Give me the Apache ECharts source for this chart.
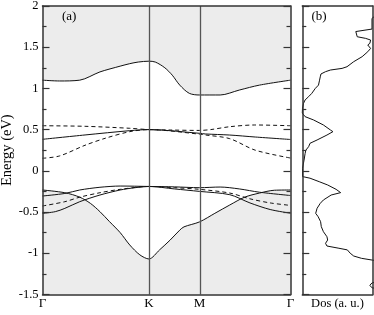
<!DOCTYPE html>
<html>
<head>
<meta charset="utf-8">
<script src="https://cdn.jsdelivr.net/npm/echarts@6/dist/echarts.min.js"></script>
<style>
html,body{margin:0;padding:0;background:#fff;}
#chart{width:374px;height:315px;}
</style>
</head>
<body>
<div id="chart"></div>
<script>
// k-path positions (units of |ΓK|)
const kTicks = [0, 1.0, 1.476, 2.331];
const kLabels = ['Γ', 'K', 'M', 'Γ'];

// energy axis
const yMin = -1.5, yMax = 2, yStep = 0.5;

// bands: [k, E]
const bandCond = [[0,1.10],[0.16,1.09],[0.35,1.10],[0.54,1.20],[0.73,1.27],[0.82,1.30],[0.9,1.32],[1.0,1.33],[1.06,1.32],[1.15,1.25],[1.22,1.16],[1.29,1.04],[1.38,0.94],[1.476,0.92],[1.67,0.92],[1.85,0.98],[2.04,1.04],[2.331,1.10]];
const bandDashUp = [[0,0.547],[0.40,0.54],[0.82,0.516],[1.0,0.50],[1.2,0.495],[1.476,0.49],[1.58,0.50],[1.76,0.535],[1.995,0.556],[2.331,0.547]];
const bandSolidMid = [[0,0.382],[0.40,0.435],[0.82,0.487],[1.0,0.50],[1.476,0.455],[1.53,0.447],[1.76,0.434],[2.0,0.41],[2.331,0.38]];
const bandDashLow = [[0,0.152],[0.16,0.18],[0.40,0.31],[0.59,0.395],[0.82,0.475],[1.0,0.50],[1.476,0.445],[1.53,0.435],[1.76,0.39],[2.0,0.25],[2.331,0.155]];
const bandBulk = [[0,-0.233],[0.21,-0.266],[0.35,-0.32],[0.45,-0.395],[0.54,-0.496],[0.63,-0.617],[0.73,-0.75],[0.82,-0.90],[0.915,-1.02],[1.0,-1.07],[1.10,-0.96],[1.20,-0.84],[1.29,-0.72],[1.33,-0.68],[1.476,-0.62],[1.62,-0.516],[1.76,-0.415],[1.90,-0.32],[2.04,-0.27],[2.18,-0.236],[2.331,-0.233]];
const bandVal1 = [[0,-0.306],[0.21,-0.275],[0.35,-0.233],[0.54,-0.20],[0.73,-0.185],[1.0,-0.19],[1.24,-0.195],[1.476,-0.205],[1.67,-0.197],[1.85,-0.22],[2.04,-0.26],[2.331,-0.30]];
const bandValDash = [[0,-0.427],[0.21,-0.375],[0.35,-0.32],[0.54,-0.266],[0.73,-0.225],[1.0,-0.19],[1.24,-0.205],[1.476,-0.225],[1.76,-0.27],[1.95,-0.34],[2.14,-0.39],[2.331,-0.42]];
const bandVal2 = [[0,-0.516],[0.12,-0.496],[0.21,-0.456],[0.35,-0.375],[0.54,-0.294],[0.73,-0.233],[0.87,-0.205],[1.0,-0.19],[1.24,-0.22],[1.476,-0.25],[1.76,-0.29],[1.95,-0.39],[2.14,-0.47],[2.331,-0.515]];

// density of states: [value (a.u.), E]
const dos = [[1.2,2.0],[1.02,1.87],[0.99,1.85],[0.99,1.72],[0.76,1.69],[0.745,1.668],[0.78,1.627],[0.90,1.607],[0.97,1.587],[0.95,1.567],[0.96,1.547],[0.93,1.527],[0.95,1.506],[0.97,1.485],[0.93,1.445],[0.85,1.385],[0.73,1.324],[0.635,1.263],[0.565,1.243],[0.40,1.223],[0.33,1.203],[0.265,1.175],[0.255,1.14],[0.245,1.10],[0.23,1.04],[0.185,1.00],[0.135,0.94],[0.09,0.90],[0.04,0.86],[0.018,0.82],[0.003,0.76],[0.0,0.70],[0.0,0.68],[0.04,0.657],[0.16,0.617],[0.30,0.556],[0.40,0.495],[0.435,0.475],[0.35,0.434],[0.21,0.374],[0.11,0.334],[0.09,0.293],[0.05,0.25],[0.04,0.21],[0.025,0.13],[0.003,0.03],[0.003,-0.07],[0.11,-0.09],[0.24,-0.132],[0.36,-0.172],[0.48,-0.225],[0.545,-0.265],[0.41,-0.294],[0.30,-0.354],[0.255,-0.395],[0.21,-0.455],[0.19,-0.516],[0.225,-0.557],[0.26,-0.617],[0.27,-0.678],[0.30,-0.739],[0.35,-0.80],[0.36,-0.84],[0.33,-0.88],[0.35,-0.913],[0.52,-0.94],[0.64,-0.96],[0.68,-1.0],[0.73,-1.034],[0.84,-1.062],[0.99,-1.083],[1.2,-1.11],[1.2,-1.33],[0.99,-1.36],[0.96,-1.39],[0.99,-1.42],[1.2,-1.45],[1.2,-1.5]];

const FONT = 'Liberation Serif';
const frame = {show:true, onZero:false, lineStyle:{color:'#333', width:1.5}};
const G0 = {left:42.5, top:6, width:248, height:288.4, outerBoundsMode:'none', containLabel:false};
const G1 = {left:302.3, top:6, width:70.4, height:288.4, outerBoundsMode:'none', containLabel:false};

function yAxisCfg(grid, pos, labels){
  return {
    type:'value', gridIndex:grid, position:pos, min:yMin, max:yMax, interval:yStep, z:10,
    axisLine:frame,
    axisTick:{show:true, inside:true, length:7, lineStyle:{color:'#333', width:1.2}},
    minorTick:{show:true, splitNumber:2, length:4, lineStyle:{color:'#333', width:1.2}},
    splitLine:{show:false},
    axisLabel:{show:labels, margin:4, color:'#000', fontFamily:FONT, fontSize:12.5}
  };
}
function edgeX(grid, pos, min, max){
  return {type:'value', gridIndex:grid, position:pos, min:min, max:max, z:10,
    axisLine:frame, axisTick:{show:false}, axisLabel:{show:false}, splitLine:{show:false}};
}

const chart = echarts.init(document.getElementById('chart'), null, {renderer:'canvas'});

const lineS = (data, dashed, extra) => Object.assign({
  type:'line', xAxisIndex:0, yAxisIndex:0, data:data, smooth:0.3, symbol:'none', silent:true,
  lineStyle:{color:'#111', width:1, type: dashed ? [4,3] : 'solid'}, z:3
}, extra || {});

const option = {
  animation:false,
  backgroundColor:'#fff',
  title:[
    {text:'(a)', left:62, top:10.5, padding:0, textStyle:{fontFamily:FONT, fontSize:13, fontWeight:'normal', color:'#000'}},
    {text:'(b)', left:311.5, top:10, padding:0, textStyle:{fontFamily:FONT, fontSize:13, fontWeight:'normal', color:'#000'}}
  ],
  grid:[G0, G1],
  xAxis:[
    {type:'value', gridIndex:0, position:'bottom', min:kTicks[0], max:kTicks[3], z:10,
      axisLine:frame, axisTick:{show:false}, splitLine:{show:false},
      axisLabel:{customValues:kTicks, showMinLabel:true, showMaxLabel:true, margin:3, color:'#000', fontFamily:FONT, fontSize:13,
        formatter:(v)=>{ let i=0, best=1e9; kTicks.forEach((t,j)=>{ if(Math.abs(t-v)<best){best=Math.abs(t-v); i=j;} }); return kLabels[i]; }}},
    edgeX(0,'top',kTicks[0],kTicks[3]),
    {type:'value', gridIndex:1, position:'bottom', min:0, max:1, z:10,
      axisLine:frame, axisTick:{show:false}, axisLabel:{show:false}, splitLine:{show:false},
      name:'Dos (a. u.)', nameLocation:'middle', nameGap:3, nameMoveOverlap:false,
      nameTextStyle:{fontFamily:FONT, fontSize:12.5, color:'#000', verticalAlign:'top'}},
    edgeX(1,'top',0,1)
  ],
  yAxis:[
    Object.assign(yAxisCfg(0,'left',true), {name:'Energy (eV)', nameLocation:'middle', nameGap:28, nameMoveOverlap:false,
      nameTextStyle:{fontFamily:FONT, fontSize:14.5, color:'#000'}}),
    yAxisCfg(0,'right',false),
    yAxisCfg(1,'left',false),
    {type:'value', gridIndex:1, position:'right', min:yMin, max:yMax, z:10, axisLine:frame, axisTick:{show:false}, axisLabel:{show:false}, splitLine:{show:false}}
  ],
  series:[
    lineS(bandCond, false, {areaStyle:{color:'#ececec', origin:'end', opacity:1}, z:1}),
    lineS(bandBulk, false, {areaStyle:{color:'#ececec', origin:'start', opacity:1}, z:1,
      markLine:{silent:true, symbol:'none', label:{show:false}, lineStyle:{color:'#555', width:1.3, type:'solid'},
        data:[{xAxis:kTicks[1]},{xAxis:kTicks[2]}]}}),
    lineS(bandDashUp, true),
    lineS(bandSolidMid, false),
    lineS(bandDashLow, true),
    lineS(bandVal1, false),
    lineS(bandValDash, true),
    lineS(bandVal2, false),
    {type:'line', xAxisIndex:2, yAxisIndex:2, data:dos, symbol:'none', silent:true, clip:true,
      lineStyle:{color:'#111', width:1}, z:3}
  ]
};
chart.setOption(option);
</script>
</body>
</html>
